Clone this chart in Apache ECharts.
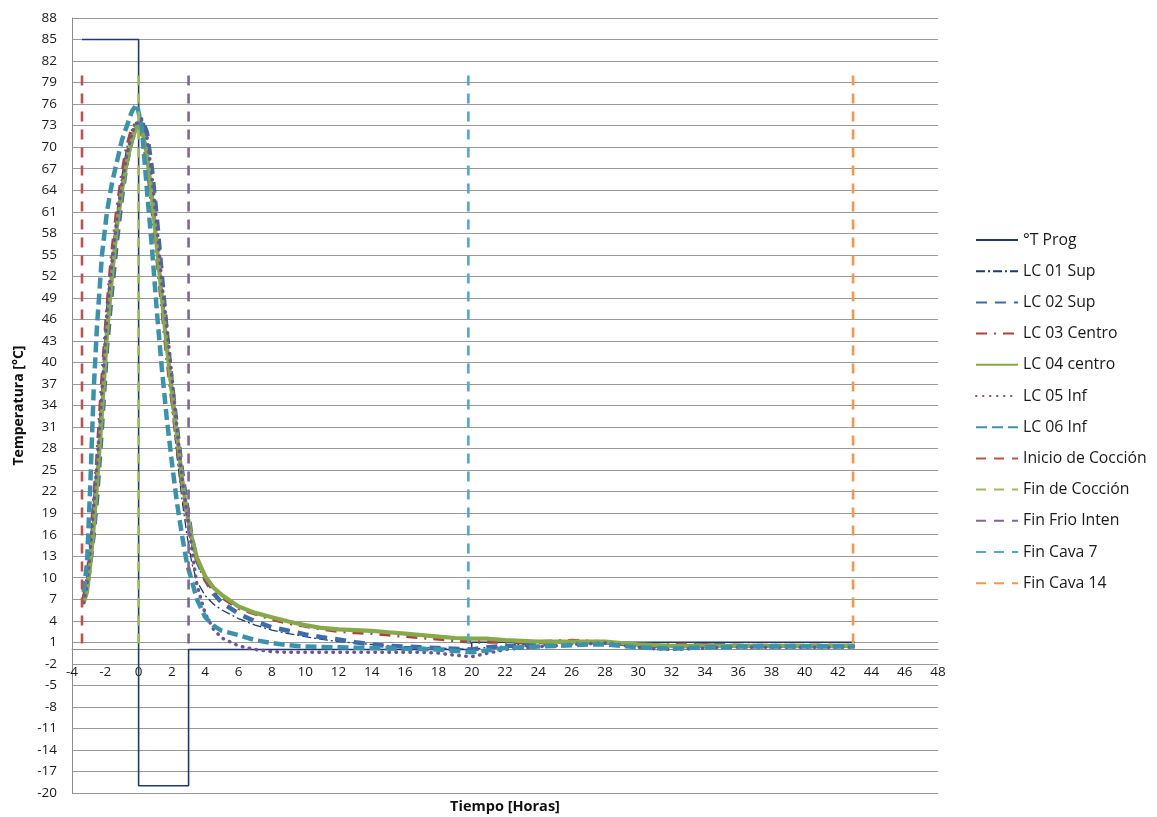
<!DOCTYPE html>
<html>
<head>
<meta charset="utf-8">
<script src="https://cdn.jsdelivr.net/npm/echarts@6/dist/echarts.min.js"></script>
<style>
html,body{margin:0;padding:0;background:#fff;}
#chart{width:1157px;height:817px;}
</style>
</head>
<body>
<div id="chart"></div>
<script>
// ---- data ----
const time = [-3.3,-3.1,-2.9,-2.7,-2.5,-2.2,-1.9,-1.6,-1.3,-1.0,-0.7,-0.4,-0.1,
  0.2,0.5,0.8,1.1,1.4,1.7,2.0,2.3,2.6,2.9,3.2,3.5,
  4,4.5,5,
  6,7,8,9,10,11,12,13,14,15,16,17,18,19,20,21,22,23,24,25,26,27,28,29,30,31,32,33,34,35,36,37,38,39,40,41,42,43];

const lc01 = [7,10,15,21,26,37,48,55,61,66,70,72.5,73.5,
  73,70,64,57,49,41,34,27,21,16,12,9.5,
  7.5,6.3,5.5,
  4.3,3.4,2.7,2.2,1.8,1.4,1.1,0.9,0.7,0.5,0.4,0.3,0.2,0.1,0,0.3,0.5,0.7,0.8,0.9,1.0,1.0,0.9,0.7,0.5,0.4,0.4,0.5,0.5,0.5,0.5,0.5,0.5,0.5,0.5,0.5,0.5,0.5];

const lc02 = [7,8.5,12,16,21,31,42,50,57,63,68,71,73,
  74,72,67,60,52,44,37,31,25,20,15.5,12.5,
  9.8,7.8,6.5,
  5.0,3.9,3.1,2.6,2.1,1.7,1.4,1.0,0.7,0.5,0.4,0.3,0.2,0.1,0.0,0.3,0.5,0.6,0.7,0.8,0.9,1.0,1.0,0.8,0.5,0.4,0.4,0.5,0.6,0.6,0.5,0.5,0.5,0.5,0.5,0.5,0.5,0.5];

const lc03 = [7,9.5,14,20,26,37,47,55,61,66,70,72.5,73.5,
  72,68,62,55,48,41,35,29,23,18.5,15,12.5,
  9.8,8.3,7.3,
  5.8,5.0,4.3,3.7,3.3,2.9,2.6,2.4,2.3,2.1,1.9,1.7,1.5,1.3,1.1,1.1,1.1,1.0,1.0,1.1,1.2,1.1,1.0,0.8,0.6,0.5,0.6,0.7,0.6,0.5,0.5,0.5,0.5,0.5,0.5,0.5,0.5,0.5];

const lc04 = [6.5,8,12,17,23,33,44,52,59,64,68,71,73,
  72.5,69,63,56,49,42,36,30,24,19,15.5,12.8,
  10.2,8.6,7.6,
  6.0,5.1,4.5,3.9,3.4,3.0,2.8,2.7,2.6,2.4,2.2,2.0,1.8,1.6,1.5,1.5,1.3,1.2,1.1,1.1,1.1,1.1,1.1,0.9,0.7,0.6,0.5,0.5,0.5,0.5,0.5,0.5,0.5,0.5,0.5,0.5,0.5,0.5];

const lc05 = [6.5,9,14,20,26,36,47,54,60,65,69,72,73.5,
  74,71.5,66,59,51,45,38,31,24,19,14,9,
  5,2.8,1.6,
  0.5,0,-0.3,-0.4,-0.4,-0.4,-0.4,-0.4,-0.4,-0.4,-0.4,-0.4,-0.5,-0.8,-1.0,-0.5,0,0.2,0.4,0.5,0.7,0.8,0.9,0.6,0.3,0.1,0,0.1,0.2,0.3,0.3,0.3,0.3,0.3,0.3,0.3,0.3,0.3];

const lc06 = [8,12,23,36,45,55,61,65,68,71,73,75,76,
  72.5,64,56,47,39,32,26,20.5,16,12,9.5,7,
  4.5,3.3,2.6,
  2.0,1.3,0.9,0.6,0.4,0.35,0.3,0.25,0.2,0.15,0.1,0.05,0,-0.2,-0.4,-0.1,0.2,0.3,0.4,0.5,0.6,0.7,0.7,0.5,0.3,0.2,0.1,0.2,0.3,0.3,0.4,0.4,0.4,0.4,0.4,0.4,0.4,0.4];

const progTime = [-3.4, 0, 0, 3, 3, 20, 20, 43];
const progTemp = [85, 85, -19, -19, 0, 0, 1, 1];

const markerNames = ['Inicio de Cocción','Fin de Cocción','Fin Frio Inten','Fin Cava 7','Fin Cava 14'];
const markerTime = [-3.4, 0, 3, 19.8, 42.9];
const markerLow = 0;
const markerHigh = 80;

const xTicks = {min: -4, max: 48, step: 2};
const yTicks = {min: -20, max: 88, step: 3};
const xCrossAt = 0; // horizontal axis crosses the vertical axis at this temperature

// ---- chart ----
const pair = (xs, ys) => xs.map((x, i) => [x, ys[i]]);

const curveDefs = [
  {name: '°T Prog', data: pair(progTime, progTemp), color: '#1F3A6E', width: 1.6, type: 'solid'},
  {name: 'LC 01 Sup', data: pair(time, lc01), color: '#1F3A6E', width: 1.3, type: [9, 3, 2, 3]},
  {name: 'LC 02 Sup', data: pair(time, lc02), color: '#3D6CAA', width: 4.5, type: [11, 8]},
  {name: 'LC 03 Centro', data: pair(time, lc03), color: '#B0413E', width: 4.2, type: [11, 7, 2, 7]},
  {name: 'LC 04 centro', data: pair(time, lc04), color: '#86A94A', width: 4.2, type: 'solid'},
  {name: 'LC 05 Inf', data: pair(time, lc05), color: '#6E5494', width: 3.5, type: [0.5, 6.5], cap: 'round'},
  {name: 'LC 06 Inf', data: pair(time, lc06), color: '#3A93AE', width: 4.5, type: [11, 5]}
];
const markerColors = ['#C0504D', '#9BBB59', '#8064A2', '#4BACC6', '#F79646'];

const series = curveDefs.map(d => ({
  name: d.name, type: 'line', data: d.data, showSymbol: false, symbol: 'none',
  animation: false,
  lineStyle: {color: d.color, width: d.width, type: d.type, cap: d.cap || 'butt'},
  itemStyle: {color: d.color}
}));
markerNames.forEach((n, i) => {
  series.push({
    name: n, type: 'line', symbol: 'none', animation: false,
    data: [[markerTime[i], markerHigh], [markerTime[i], markerLow]],
    lineStyle: {color: markerColors[i], width: 2.6, type: [10, 8]},
    itemStyle: {color: markerColors[i]}
  });
});

const font = '"Open Sans", Lato, sans-serif';
const chart = echarts.init(document.getElementById('chart'), null, {renderer: 'canvas'});
chart.setOption({
  backgroundColor: '#fff',
  animation: false,
  textStyle: {fontFamily: font},
  grid: {left: 72, top: 18, right: 219, bottom: 24, containLabel: false, outerBoundsMode: 'none'},
  xAxis: {
    type: 'value', min: xTicks.min, max: xTicks.max, interval: xTicks.step,
    position: 'bottom', offset: 0,
    name: 'Tiempo [Horas]', nameLocation: 'middle', nameGap: 150,
    nameTextStyle: {fontFamily: font, fontSize: 14.5, fontWeight: 'bold', color: '#111'},
    axisLine: {show: true, onZero: false, lineStyle: {color: '#8c8c8c', width: 1}},
    axisTick: {show: false},
    axisLabel: {fontFamily: font, fontSize: 13.5, color: '#1a1a1a', margin: 16},
    splitLine: {show: false}
  },
  yAxis: {
    type: 'value', min: yTicks.min, max: yTicks.max, interval: yTicks.step,
    name: 'Temperatura [°C]', nameLocation: 'middle', nameGap: 46, nameRotate: 90,
    nameTextStyle: {fontFamily: font, fontSize: 14, fontWeight: 'bold', color: '#111'},
    axisLine: {show: true, onZero: false, lineStyle: {color: '#8c8c8c', width: 1}},
    axisTick: {show: false},
    axisLabel: {fontFamily: font, fontSize: 13.5, color: '#1a1a1a', margin: 15},
    splitLine: {show: true, lineStyle: {color: '#9a9a9a', width: 1}}
  },
  legend: {
    orient: 'vertical', left: 970, top: 227,
    itemWidth: 42, itemHeight: 14, itemGap: 15.2,
    textStyle: {fontFamily: font, fontSize: 15.8, color: '#1a1a1a'},
    itemStyle: {opacity: 0},
    data: series.map(s => s.name)
  },
  series: series
});
// move the horizontal axis so it crosses the vertical axis at xCrossAt (like the original)
const yZero = chart.convertToPixel({yAxisIndex: 0}, xCrossAt);
const yBottom = chart.convertToPixel({yAxisIndex: 0}, yTicks.min);
chart.setOption({xAxis: {offset: yZero - yBottom}});
</script>
</body>
</html>
